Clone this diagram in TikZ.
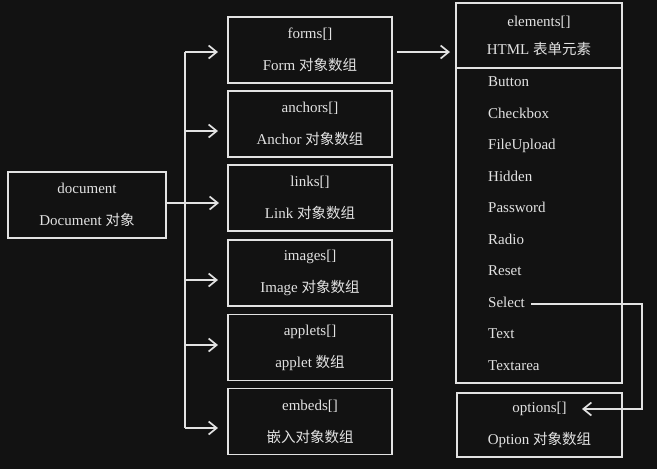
\documentclass[tikz,border=0pt]{standalone}
\usepackage{fontspec}
\setmainfont{Liberation Serif}
\newfontfamily\cjk{Noto Sans CJK SC}
\usetikzlibrary{arrows.meta}
\definecolor{bg}{HTML}{121212}
\definecolor{fg}{HTML}{E2E2E2}
\newcommand\zh[1]{{\cjk\fontsize{14.5}{32}\selectfont #1}}
\tikzset{
  box/.style={draw=fg, line width=1.7pt, minimum width=164pt, minimum height=66pt,
    inner sep=0pt, align=center, text=fg, font=\fontsize{15}{32}\selectfont},
  item/.style={anchor=west, inner sep=0pt, text height=10pt, text depth=3.5pt, text=fg, font=\fontsize{15}{17}\selectfont},
  ln/.style={draw=fg, line width=1.7pt},
  arr/.style={ln, -{Straight Barb[length=8pt,width=13pt,line width=1.7pt]}},
}
\begin{document}
\begin{tikzpicture}[x=1pt,y=-1pt]
\fill[bg] (0,0) rectangle (657,469);
\useasboundingbox (0,0) rectangle (657,469);

% document
\node[box, minimum width=158pt] (doc) at (87,205) {document\\Document \zh{对象}};

% middle boxes
\node[box] (forms)   at (310,50)    {forms[]\\Form \zh{对象数组}};
\node[box] (anchors) at (310,124)   {anchors[]\\Anchor \zh{对象数组}};
\node[box] (links)   at (310,198)   {links[]\\Link \zh{对象数组}};
\node[box] (images)  at (310,273)   {images[]\\Image \zh{对象数组}};
\node[box] (applets) at (310,347.5) {applets[]\\applet \zh{数组}};
\node[box] (embeds)  at (310,421.5) {embeds[]\\\zh{嵌入对象数组}};

% trunk
\coordinate (t1) at (185,52);
\coordinate (t2) at (185,131);
\coordinate (t3) at (185,203);
\coordinate (t4) at (185,280);
\coordinate (t5) at (185,345);
\coordinate (t6) at (185,428);
\draw[ln] (t1) -- (t6);
\draw[arr] (t1) -- (218,52);
\draw[arr] (t2) -- (218,131);
\draw[arr] (doc.east |- t3) -- (219,203);
\draw[arr] (t4) -- (218,280);
\draw[arr] (t5) -- (218,345);
\draw[arr] (t6) -- (218,428);

% elements box
\node[box, minimum width=166pt, minimum height=380pt] (el) at (539,193) {};
\node[text=fg, align=center, inner sep=0pt, font=\fontsize{15}{28}\selectfont] (eltitle) at (539,36) {elements[]\\HTML \zh{表单元素}};
\draw[ln] (el.west |- 0,68) -- (el.east |- 0,68);
\draw[arr] (forms.east |- 0,52) ++(4,0) -- (450,52);

\node[item] (i1)  at (488,83)  {Button};
\node[item] (i2)  at (488,115) {Checkbox};
\node[item] (i3)  at (488,146) {FileUpload};
\node[item] (i4)  at (488,178) {Hidden};
\node[item] (i5)  at (488,209) {Password};
\node[item] (i6)  at (488,241) {Radio};
\node[item] (i7)  at (488,272) {Reset};
\node[item] (sel) at (488,304) {Select};
\node[item] (i9)  at (488,335) {Text};
\node[item] (i10) at (488,367) {Textarea};

% options box
\node[box, minimum width=165pt, minimum height=64pt] (opt) at (539.5,425) {options[]\\Option \zh{对象数组}};
\coordinate (optin) at (582,409);
\draw[arr] (sel.east) ++(6,0) -- (642,304) -- (642,409) -- (optin);
\end{tikzpicture}
\end{document}
